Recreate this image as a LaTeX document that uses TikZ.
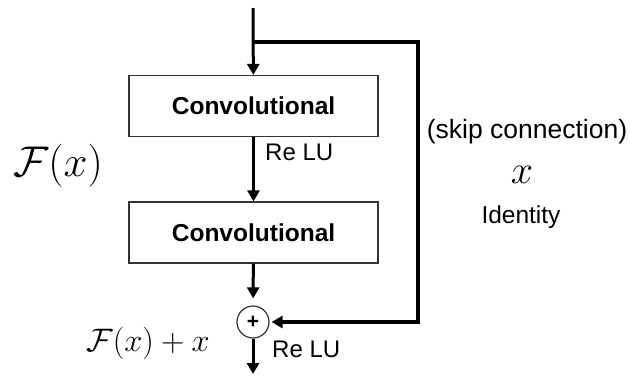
\RequirePackage{fix-cm}
\documentclass[tikz,border=0pt]{standalone}
\usepackage{fontspec}
\setsansfont{Liberation Sans}
\usepackage{amsmath}
\usetikzlibrary{arrows.meta}
\definecolor{inkgray}{HTML}{333333}
\newcommand{\fsz}[1]{\fontsize{#1}{#1}\selectfont}

\begin{document}
\begin{tikzpicture}[x=1pt,y=-1pt,
  every node/.style={font=\sffamily,inner sep=0pt},
  conv/.style={draw=inkgray,line width=1.2pt,minimum width=249pt,minimum height=61pt,font=\sffamily\bfseries\fsz{24.5}},
  sumc/.style={circle,draw=inkgray,line width=1.2pt,minimum size=32pt,font=\sffamily\bfseries\fsz{21}},
  flow/.style={line width=3pt,line join=miter,-{Triangle[length=11pt,width=12pt]}},
  lb/.style={anchor=west,font=\sffamily\fsz{24}}]
\useasboundingbox (0,0) rectangle (630,376);
% blocks
\node[conv] (c1) at (253.5,106) {Convolutional};
\node[conv] (c2) at (253.5,232.5) {Convolutional};
\node[sumc] (sum) at (253,322) {+};
\coordinate (in) at (253,8);
\coordinate (br) at (253,42);
\coordinate (skA) at (418,42);
\coordinate (skB) at (418,322);
\coordinate (out) at (253,374);
% main path
\draw[flow] (in) -- (c1);
\draw[flow] (c1) -- (c2);
\draw[flow,shorten >=7pt] (c2) -- (sum);
\draw[flow] (sum) -- (out);
% skip connection
\draw[flow,line width=3.5pt] (br) -- (skA) -- (skB) -- ([xshift=2pt]sum.east);
% labels
\node[lb] (relu1) at (265,152) {Re LU};
\node[lb] (relu2) at (272,349) {Re LU};
\node[font=\sffamily\fsz{26.5}] (skip) at (527,132) {(skip connection)};
\node[font=\fsz{40}] (idx) at (522,175) {$x$};
\node[font=\sffamily\fsz{24.5}] (ident) at (521,217) {Identity};
\node[font=\fsz{43}] (fx) at (58,166) {$\mathcal{F}(x)$};
\node[font=\fsz{32.5}] (fxx) at (148,343) {$\mathcal{F}(x)+x$};
\end{tikzpicture}
\end{document}
